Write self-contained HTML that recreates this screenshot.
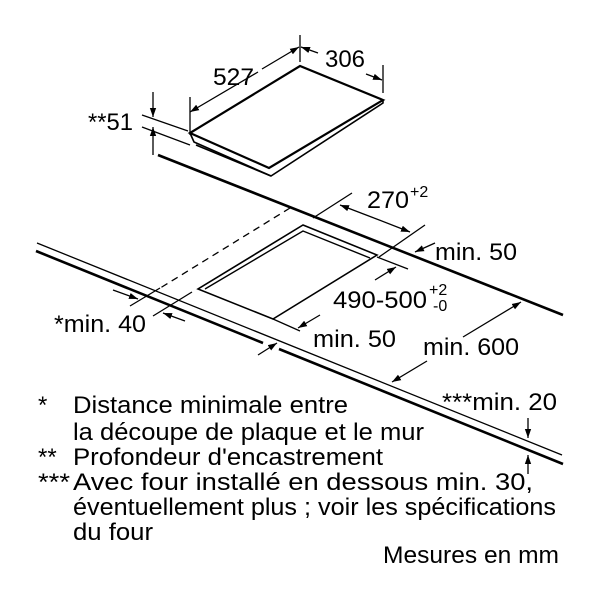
<!DOCTYPE html>
<html><head><meta charset="utf-8"><style>
html,body{margin:0;padding:0;background:#fff}
svg{display:block}
text{font-family:"Liberation Sans",Arial,sans-serif;fill:#000}
</style></head><body>
<svg width="600" height="600" viewBox="0 0 600 600" xmlns="http://www.w3.org/2000/svg">
<defs>
<marker id="a" viewBox="0 0 10 10" refX="10" refY="5" markerWidth="9" markerHeight="9" markerUnits="userSpaceOnUse" orient="auto"><path d="M0,1.5 L10,5 L0,8.5 Z" fill="#000"/></marker>
</defs>
<g stroke="#000" fill="none" stroke-width="1.3">
<path d="M190,133 L300,66 L383,100 L269,168 Z" stroke-width="2.2"/>
<path d="M190,133 L194,142 L271,176 L383,103 L383,100" stroke-width="1.6"/>
<path d="M196,145 L271,176" stroke-width="1.6"/>
<line x1="190" y1="97" x2="190" y2="135"/>
<line x1="300" y1="35" x2="300" y2="62"/>
<line x1="383" y1="65" x2="383" y2="93"/>
<line x1="258" y1="72" x2="190" y2="112" marker-end="url(#a)"/>
<line x1="262" y1="69" x2="299" y2="47" marker-end="url(#a)"/>
<line x1="318" y1="53" x2="301" y2="47" marker-end="url(#a)"/>
<line x1="366" y1="74" x2="382" y2="80" marker-end="url(#a)"/>
<line x1="142" y1="115" x2="188" y2="131"/>
<line x1="142" y1="127" x2="190" y2="145"/>
<line x1="153" y1="92" x2="153" y2="117" marker-end="url(#a)"/>
<line x1="153" y1="155" x2="153" y2="127" marker-end="url(#a)"/>
<line x1="158" y1="155" x2="563" y2="315" stroke-width="2.6"/>
<line x1="37" y1="243" x2="562" y2="455"/>
<line x1="36" y1="251" x2="263" y2="343" stroke-width="2.6"/>
<line x1="279" y1="349" x2="563" y2="464" stroke-width="2.6"/>
<path d="M303,225 L377,255 L273,319 L198,289 Z" stroke-width="1.6"/>
<path d="M205,289 L303,231 L370,258" stroke-width="1.4"/>
<line x1="290" y1="208" x2="157" y2="290" stroke-dasharray="7,5"/>
<line x1="130" y1="306" x2="160" y2="288"/>
<line x1="153" y1="316" x2="192" y2="292"/>
<line x1="113" y1="290" x2="138" y2="299" marker-end="url(#a)"/>
<line x1="185" y1="321" x2="163" y2="313" marker-end="url(#a)"/>
<line x1="352" y1="193" x2="313" y2="218"/>
<line x1="425" y1="225" x2="379" y2="257"/>
<line x1="374" y1="218" x2="340" y2="205" marker-end="url(#a)"/>
<line x1="374" y1="218" x2="410" y2="232" marker-end="url(#a)"/>
<line x1="435" y1="243" x2="415" y2="252" marker-end="url(#a)"/>
<line x1="377" y1="257" x2="408" y2="269"/>
<line x1="375" y1="280" x2="396" y2="267" marker-end="url(#a)"/>
<line x1="273" y1="319" x2="300" y2="331"/>
<line x1="320" y1="315" x2="298" y2="328" marker-end="url(#a)"/>
<line x1="258" y1="355" x2="277" y2="343" marker-end="url(#a)"/>
<line x1="463" y1="337" x2="521" y2="302" marker-end="url(#a)"/>
<line x1="427" y1="361" x2="392" y2="382" marker-end="url(#a)"/>
<line x1="528" y1="418" x2="528" y2="438" marker-end="url(#a)"/>
<line x1="528" y1="474" x2="528" y2="455" marker-end="url(#a)"/>
</g>
<g font-size="24">
<text x="88" y="130" textLength="45" lengthAdjust="spacingAndGlyphs">**51</text>
<text x="213" y="85" textLength="41" lengthAdjust="spacingAndGlyphs">527</text>
<text x="325" y="67" textLength="40" lengthAdjust="spacingAndGlyphs">306</text>
<text x="367" y="208" textLength="42" lengthAdjust="spacingAndGlyphs">270</text>
<text x="410" y="197" font-size="16">+2</text>
<text x="435" y="260" textLength="82" lengthAdjust="spacingAndGlyphs">min. 50</text>
<text x="333" y="308" textLength="94" lengthAdjust="spacingAndGlyphs">490-500</text>
<text x="429" y="295" font-size="16">+2</text>
<text x="433" y="311" font-size="16">-0</text>
<text x="54" y="332" textLength="92" lengthAdjust="spacingAndGlyphs">*min. 40</text>
<text x="313" y="347" textLength="83" lengthAdjust="spacingAndGlyphs">min. 50</text>
<text x="423" y="355" textLength="96" lengthAdjust="spacingAndGlyphs">min. 600</text>
<text x="442" y="410" textLength="115" lengthAdjust="spacingAndGlyphs">***min. 20</text>
</g>
<g font-size="24">
<text x="38" y="413">*</text>
<text x="73" y="413" textLength="275" lengthAdjust="spacingAndGlyphs">Distance minimale entre</text>
<text x="73" y="440" textLength="351" lengthAdjust="spacingAndGlyphs">la découpe de plaque et le mur</text>
<text x="38" y="465">**</text>
<text x="73" y="465" textLength="310" lengthAdjust="spacingAndGlyphs">Profondeur d'encastrement</text>
<text x="38" y="490" textLength="32" lengthAdjust="spacingAndGlyphs">***</text>
<text x="73" y="490" textLength="460" lengthAdjust="spacingAndGlyphs">Avec four installé en dessous min. 30,</text>
<text x="73" y="515" textLength="483" lengthAdjust="spacingAndGlyphs">éventuellement plus ; voir les spécifications</text>
<text x="73" y="540" textLength="80" lengthAdjust="spacingAndGlyphs">du four</text>
<text x="383" y="563" textLength="176" lengthAdjust="spacingAndGlyphs">Mesures en mm</text>
</g>
</svg>
</body></html>
